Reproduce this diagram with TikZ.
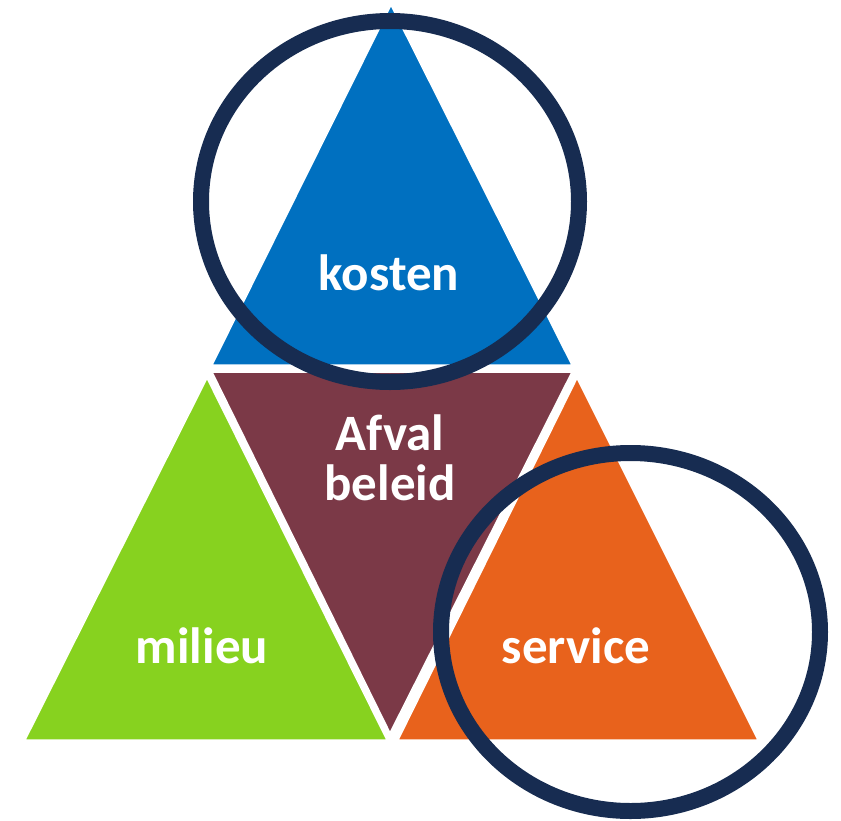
\documentclass[tikz,border=0pt]{standalone}
\usepackage{fontspec}
\setmainfont{Carlito}
\definecolor{tblue}{HTML}{0070C0}
\definecolor{tmaroon}{HTML}{7B3947}
\definecolor{tgreen}{HTML}{87D21F}
\definecolor{torange}{HTML}{E8621C}
\definecolor{tnavy}{HTML}{172C51}
\tikzset{
  tri/.style={draw=white, line width=1.5pt, line join=miter},
  lbl/.style={text=white, font=\fontsize{51}{50}\selectfont\bfseries, inner sep=0pt, align=center},
  ring/.style={draw=tnavy, line width=16pt}
}
\begin{document}
\begin{tikzpicture}[x=1pt,y=-1pt]
\useasboundingbox (0,0) rectangle (841,820);
% triangles
\path[tri, fill=tblue] (391,5) -- (572,365) -- (212,365) -- cycle;
\path[tri, fill=tmaroon] (212,372) -- (572,372) -- (390,733) -- cycle;
\path[tri, fill=tgreen] (207,378) -- (387,740) -- (25,740) -- cycle;
\path[tri, fill=torange] (577,378) -- (758,740) -- (398,740) -- cycle;
% labels
\node[lbl, anchor=base] (kosten) at (389,290) {kosten};
\node[lbl, anchor=base] (afval) at (390,500) {Afval\\beleid};
\node[lbl, anchor=base] (milieu) at (202,663) {milieu};
\node[lbl, anchor=base] (service) at (576,663) {service};
% rings
\draw[ring] (390,201.5) ellipse [x radius=189, y radius=180.5];
\draw[ring] (630.5,632) ellipse [x radius=189.5, y radius=179];
\end{tikzpicture}
\end{document}
